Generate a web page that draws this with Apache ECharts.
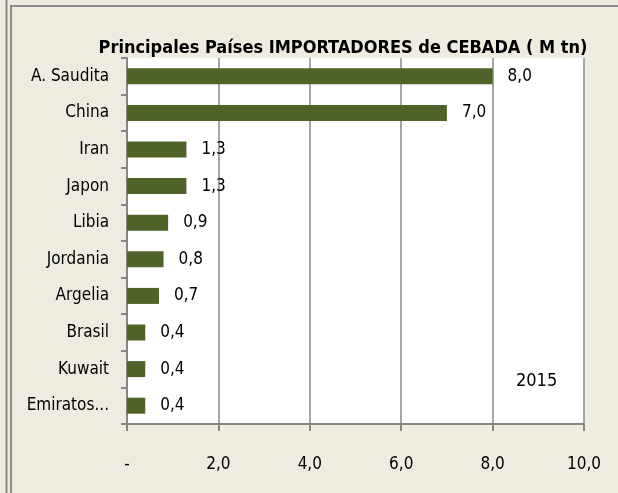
<!DOCTYPE html>
<html>
<head>
<meta charset="utf-8">
<script src="https://cdn.jsdelivr.net/npm/echarts@6/dist/echarts.min.js"></script>
<style>
html,body{margin:0;padding:0;background:#EEECE1;}
#chart{width:618px;height:493px;}
</style>
</head>
<body>
<div id="chart"></div>
<script>
// datos: importadores de cebada 2015 (M tn)
var paises = ['A. Saudita', 'China', 'Iran', 'Japon', 'Libia', 'Jordania', 'Argelia', 'Brasil', 'Kuwait', 'Emiratos Árabes Unidos'];
var valores = [8.0, 7.0, 1.3, 1.3, 0.9, 0.8, 0.7, 0.4, 0.4, 0.4];
var ticksX = [0, 2, 4, 6, 8, 10];

var fuente = '"DejaVu Sans Condensed", Roboto, sans-serif';

function coma(v){
	if (v === 0) return '-';
	return v.toFixed(1).replace('.', ',');
}

var myChart = echarts.init(document.getElementById('chart'));
myChart.setOption({
	backgroundColor: '#EEECE1',
	animation: false,
	title: {
		text: 'Principales Países IMPORTADORES de CEBADA ( M tn)',
		left: 338,
		textAlign: 'center',
		top: 34,
		textStyle: {fontFamily: fuente, fontSize: 18, fontWeight: 'bold', color: '#000'}
	},
	grid: {left: 127, right: 34, top: 58, bottom: 69, backgroundColor: '#fff', show: true, borderWidth: 0},
	xAxis: {
		type: 'value',
		min: ticksX[0], max: ticksX[ticksX.length - 1], interval: 2,
		axisLine: {show: true, lineStyle: {color: '#868686', width: 2}},
		axisTick: {show: true, length: 7, lineStyle: {color: '#868686', width: 2}},
		splitLine: {show: true, lineStyle: {color: '#A6A6A6', width: 2}},
		axisLabel: {
			margin: 32,
			fontFamily: fuente, fontSize: 17, color: '#000',
			formatter: function(v){ return coma(v); }
		}
	},
	yAxis: {
		type: 'category',
		inverse: true,
		data: paises,
		axisLine: {show: true, lineStyle: {color: '#868686', width: 2}},
		axisTick: {show: true, length: 6, lineStyle: {color: '#868686', width: 2}},
		axisLabel: {
			margin: 18,
			fontFamily: fuente, fontSize: 17, color: '#000',
			formatter: function(v){ return v.length > 10 ? v.split(' ')[0] + '...' : v; }
		}
	},
	series: [{
		type: 'bar',
		data: valores,
		barWidth: 16,
		itemStyle: {color: '#4F6228'},
		label: {
			show: true,
			position: 'right',
			distance: 15,
			fontFamily: fuente, fontSize: 17, color: '#000',
			formatter: function(p){ return coma(p.value); }
		}
	}],
	graphic: [
		{type: 'line', shape: {x1: 6.5, y1: 0, x2: 6.5, y2: 493}, style: {stroke: '#8C8C8C', lineWidth: 2}},
		{type: 'rect', shape: {x: 11, y: 6, width: 640, height: 520}, style: {fill: 'none', stroke: '#8C8C8C', lineWidth: 2}},
		{type: 'text', left: 516, top: 372, style: {text: '2015', font: '18px ' + fuente, fill: '#000'}}
	]
});
</script>
</body>
</html>
